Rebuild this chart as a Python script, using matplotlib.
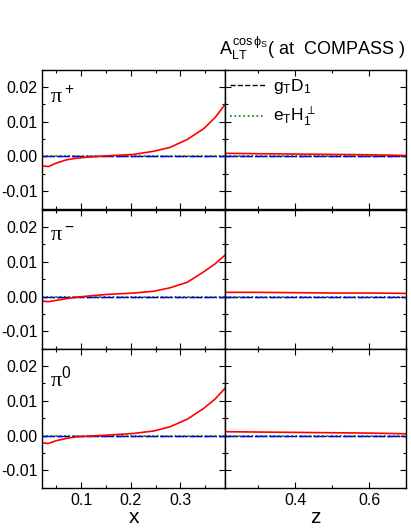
import numpy as np
import matplotlib
matplotlib.use('Agg')
import matplotlib.pyplot as plt
from matplotlib.ticker import MultipleLocator, FormatStrFormatter

plt.rcParams['font.family'] = ['Liberation Sans', 'DejaVu Sans']
plt.rcParams['mathtext.fontset'] = 'custom'
plt.rcParams['mathtext.rm'] = 'Liberation Sans'
plt.rcParams['mathtext.it'] = 'Liberation Sans'
plt.rcParams['mathtext.bf'] = 'Liberation Sans:bold'

# x-dependence
x_vals = [0.022, 0.034, 0.05, 0.071, 0.09, 0.112, 0.152, 0.206, 0.246, 0.279,
          0.314, 0.347, 0.37, 0.39]
x_pip = [-0.0027, -0.0029, -0.0019, -0.00095, -0.0005, -0.0002, 0.0002, 0.0006, 0.0015, 0.0026,
         0.0049, 0.0080, 0.0112, 0.0150]
x_pim = [-0.0013, -0.0015, -0.0011, -0.0006, -0.0002, 0.0001, 0.0006, 0.0010, 0.0015, 0.0025,
         0.0041, 0.0071, 0.0094, 0.0119]
x_pi0 = [-0.0021, -0.0023, -0.0015, -0.0008, -0.0004, -0.0002, 0.0001, 0.0006, 0.0013, 0.0025,
         0.0047, 0.0078, 0.0105, 0.0136]

# z-dependence
z_vals = [0.21, 0.3, 0.4, 0.5, 0.6, 0.7]
z_pip = [0.0009, 0.0008, 0.0007, 0.0006, 0.0005, 0.0003]
z_pim = [0.0012, 0.0012, 0.0011, 0.0010, 0.0010, 0.0009]
z_pi0 = [0.0011, 0.0010, 0.0009, 0.0008, 0.0007, 0.0005]

# other contributions (practically zero)
x_gtd1 = [0.0] * len(x_vals)
x_eth1 = [0.0] * len(x_vals)
z_gtd1 = [0.0] * len(z_vals)
z_eth1 = [0.0] * len(z_vals)

hadrons = ['π$^+$', 'π$^-$', 'π$^0$']
x_red = [x_pip, x_pim, x_pi0]
z_red = [z_pip, z_pim, z_pi0]

fig = plt.figure(figsize=(4.11, 5.32), dpi=100)

bottoms = [0.6066, 0.3434, 0.0821]
h = 0.2625
for i in range(3):
    axl = fig.add_axes([0.103, bottoms[i], 0.4445, h])
    axr = fig.add_axes([0.5474, bottoms[i], 0.4404, h])

    axl.plot(x_vals, x_gtd1, color='black', ls='--', lw=1)
    axl.plot(x_vals, x_eth1, color='green', ls=':', lw=1.2)
    axl.plot(x_vals, [0.0] * len(x_vals), color='blue', ls='-.', lw=1)
    axl.plot(x_vals, x_red[i], color='red', lw=1.2)

    l1, = axr.plot(z_vals, z_gtd1, color='black', ls='--', lw=1)
    l2, = axr.plot(z_vals, z_eth1, color='green', ls=':', lw=1.2)
    axr.plot(z_vals, [0.0] * len(z_vals), color='blue', ls='-.', lw=1)
    axr.plot(z_vals, z_red[i], color='red', lw=1.2)

    axl.set_xlim(0.022, 0.39)
    axr.set_xlim(0.21, 0.7)
    for ax in (axl, axr):
        ax.set_ylim(-0.0152, 0.025)
        ax.yaxis.set_major_locator(MultipleLocator(0.01))
        ax.yaxis.set_minor_locator(MultipleLocator(0.005))
        ax.tick_params(which='both', direction='in', top=True, right=True, labelsize=11.5)
        ax.tick_params(which='major', length=4, width=0.8)
        ax.tick_params(which='minor', length=2.5, width=0.8)
        for s in ax.spines.values():
            s.set_linewidth(1)
    axl.yaxis.set_major_formatter(FormatStrFormatter('%.2f'))
    axr.set_yticklabels([])
    axl.xaxis.set_major_locator(MultipleLocator(0.1))
    axl.xaxis.set_minor_locator(MultipleLocator(0.05))
    axr.xaxis.set_major_locator(MultipleLocator(0.2))
    axr.xaxis.set_minor_locator(MultipleLocator(0.1))
    axl.xaxis.set_major_formatter(FormatStrFormatter('%.1f'))
    axr.xaxis.set_major_formatter(FormatStrFormatter('%.1f'))
    if i < 2:
        axl.set_xticklabels([])
        axr.set_xticklabels([])
    else:
        axl.set_xlabel('x', fontsize=15, labelpad=0)
        axr.set_xlabel('z', fontsize=15, labelpad=0)

    axl.text(0.04, 0.88, hadrons[i], transform=axl.transAxes, fontsize=16,
             ha='left', va='top', family='Liberation Serif')

    if i == 0:
        axr.legend([l1, l2], [r'$g_TD_1$', r'$e_TH_1^{\perp}$'], loc='upper left',
                   bbox_to_anchor=(0.01, 0.97), frameon=False, fontsize=12.5,
                   handlelength=2.0, handletextpad=0.45,
                   borderaxespad=0.0, borderpad=0.2, labelspacing=0.5)

fig.text(0.985, 0.897, r'$A_{LT}^{\cos\phi_S}$( at  COMPASS )', fontsize=13,
         ha='right', va='baseline')

fig.savefig('out.png', dpi=100)
